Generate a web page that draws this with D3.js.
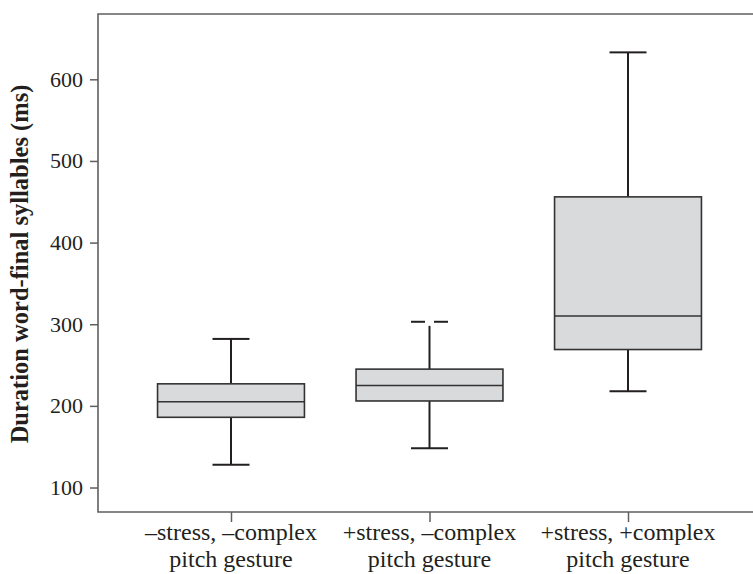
<!DOCTYPE html>
<html>
<head>
<meta charset="utf-8">
<script src="https://cdn.jsdelivr.net/npm/d3@7"></script>
<style>
  body { margin: 0; background: #fff; }
  svg { display: block; }
  .tick text { font-family: "Liberation Serif", "DejaVu Serif", serif; fill: #231f20; }
</style>
</head>
<body>
<script>
// data
var categories = ["a", "b", "c"];
var labelLine1 = ["\u2013stress, \u2013complex", "+stress, \u2013complex", "+stress, +complex"];
var labelLine2 = ["pitch gesture", "pitch gesture", "pitch gesture"];
var lowCap = [128, 148, 218];
var q1 = [186, 206, 269];
var median = [205, 225, 310];
var q3 = [227, 245, 456];
var highWhisker = [282, 298, 633];   // where the whisker line stops
var highCap = [282, 303, 633];       // where the cap is drawn
var yTicks = [100, 200, 300, 400, 500, 600];

var w = 753, h = 574;
var mLeft = 98, mTop = 14, mBottom = 512, mRight = 753;

var svg = d3.select("body").append("svg")
    .attr("width", w)
    .attr("height", h);

var xScale = d3.scalePoint()
    .domain(categories)
    .range([mLeft, 761])
    .padding(0.67);
var step = xScale.step();
var boxW = step * 0.74;
var capW = 37;

var yScale = d3.scaleLinear()
    .domain([70, 680])
    .range([mBottom, mTop]);

var axisColor = "#5f5f5f";
var ink = "#231f20";

// y axis
var yAxis = d3.axisLeft(yScale)
    .tickValues(yTicks)
    .tickSize(8)
    .tickPadding(7);
var gy = svg.append("g")
    .attr("transform", "translate(" + mLeft + ",0)")
    .call(yAxis);
gy.select(".domain").remove();
gy.selectAll(".tick line").attr("stroke", axisColor).attr("stroke-width", 1.5);
gy.selectAll(".tick text").attr("font-size", "22px").attr("fill", ink);

// x axis
var xAxis = d3.axisBottom(xScale)
    .tickSize(10)
    .tickFormat("");
var gx = svg.append("g")
    .attr("transform", "translate(0," + mBottom + ")")
    .call(xAxis);
gx.select(".domain").remove();
gx.selectAll(".tick line").attr("stroke", axisColor).attr("stroke-width", 1.5);

// frame (left, top, bottom)
svg.append("path")
    .attr("d", "M" + mRight + "," + mTop + "H" + mLeft + "V" + mBottom + "H" + mRight)
    .attr("fill", "none")
    .attr("stroke", axisColor)
    .attr("stroke-width", 1.6);

// category labels
var labels = svg.append("g")
    .attr("font-family", "'Liberation Serif', 'DejaVu Serif', serif")
    .attr("font-size", "24px")
    .attr("fill", ink)
    .attr("text-anchor", "middle");
categories.forEach(function(c, i) {
    labels.append("text").attr("x", xScale(c)).attr("y", 540).text(labelLine1[i]);
    labels.append("text").attr("x", xScale(c)).attr("y", 567).text(labelLine2[i]);
});

// y title
svg.append("text")
    .attr("transform", "translate(28," + ((mTop + mBottom) / 2 + 1) + ") rotate(-90)")
    .attr("text-anchor", "middle")
    .attr("font-family", "'Liberation Serif', 'DejaVu Serif', serif")
    .attr("font-weight", "bold")
    .attr("font-size", "24.5px")
    .attr("fill", ink)
    .text("Duration word-final syllables (ms)");

// boxes
var boxes = svg.selectAll("g.box")
    .data(categories)
    .enter()
    .append("g")
    .attr("class", "box");

// whiskers
boxes.append("line")
    .attr("x1", function(d) { return xScale(d); })
    .attr("x2", function(d) { return xScale(d); })
    .attr("y1", function(d, i) { return yScale(q1[i]); })
    .attr("y2", function(d, i) { return yScale(lowCap[i]); })
    .attr("stroke", ink).attr("stroke-width", 2);
boxes.append("line")
    .attr("x1", function(d) { return xScale(d); })
    .attr("x2", function(d) { return xScale(d); })
    .attr("y1", function(d, i) { return yScale(q3[i]); })
    .attr("y2", function(d, i) { return yScale(highWhisker[i]); })
    .attr("stroke", ink).attr("stroke-width", 2);

// caps
boxes.append("line")
    .attr("x1", function(d) { return xScale(d) - capW / 2; })
    .attr("x2", function(d) { return xScale(d) + capW / 2; })
    .attr("y1", function(d, i) { return yScale(lowCap[i]); })
    .attr("y2", function(d, i) { return yScale(lowCap[i]); })
    .attr("stroke", ink).attr("stroke-width", 2);
// upper cap: split in two when the whisker stops short of it
boxes.each(function(d, i) {
    var g = d3.select(this);
    var cx = xScale(d), cy = yScale(highCap[i]);
    var gap = highCap[i] !== highWhisker[i] ? 4.5 : 0;
    g.append("line")
        .attr("x1", cx - capW / 2).attr("x2", cx - gap)
        .attr("y1", cy).attr("y2", cy)
        .attr("stroke", ink).attr("stroke-width", 2);
    g.append("line")
        .attr("x1", cx + gap).attr("x2", cx + capW / 2)
        .attr("y1", cy).attr("y2", cy)
        .attr("stroke", ink).attr("stroke-width", 2);
});

// box body
boxes.append("rect")
    .attr("x", function(d) { return xScale(d) - boxW / 2; })
    .attr("width", boxW)
    .attr("y", function(d, i) { return yScale(q3[i]); })
    .attr("height", function(d, i) { return yScale(q1[i]) - yScale(q3[i]); })
    .attr("fill", "#d9dadc")
    .attr("stroke", "#333")
    .attr("stroke-width", 1.6);

// median
boxes.append("line")
    .attr("x1", function(d) { return xScale(d) - boxW / 2; })
    .attr("x2", function(d) { return xScale(d) + boxW / 2; })
    .attr("y1", function(d, i) { return yScale(median[i]); })
    .attr("y2", function(d, i) { return yScale(median[i]); })
    .attr("stroke", "#333").attr("stroke-width", 1.4);
</script>
</body>
</html>
